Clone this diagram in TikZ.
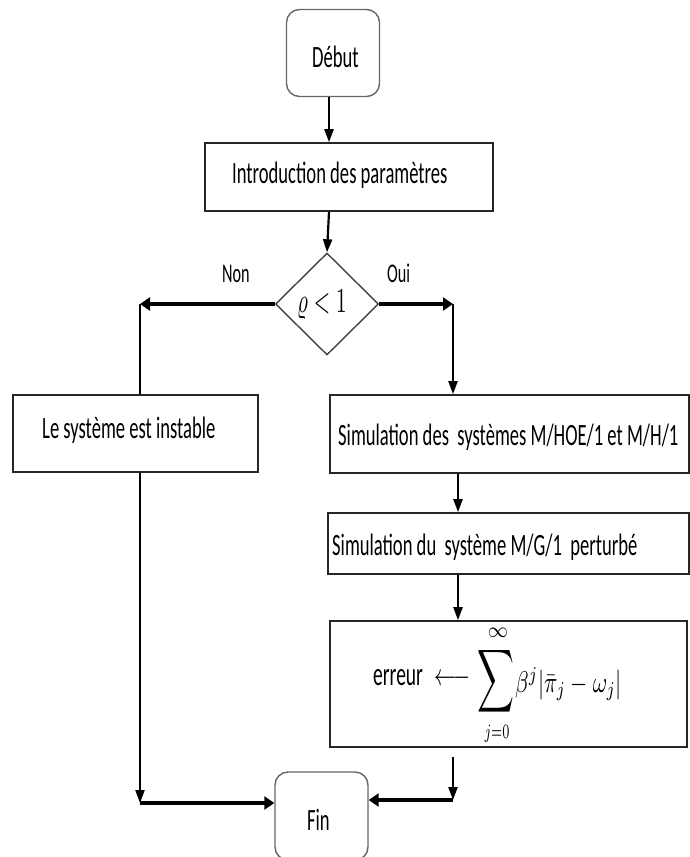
\documentclass[tikz,border=0pt]{standalone}
\usepackage{fontspec}
\usepackage{graphicx}
\newfontfamily\carlito{Carlito}
\usetikzlibrary{shapes.geometric,arrows.meta}
% narrow the lettering horizontally
\newcommand\sqz[1]{\scalebox{0.6}[1]{#1}}

\tikzset{
  term/.style={draw=black!60, line width=1.4pt, rounded corners=13pt, inner sep=0pt},
  proc/.style={draw=black!85, line width=1.6pt, inner sep=0pt},
  dec/.style={draw=black!75, line width=1.4pt, diamond, inner sep=0pt},
  txt/.style={font=\carlito\fontsize{31}{36}\selectfont, text=black, inner sep=0pt},
  lbl/.style={font=\carlito\fontsize{27}{32}\selectfont, text=black, inner sep=0pt},
  mth/.style={text=black, inner sep=0pt},
  vflow/.style={line width=2.2pt, -{Triangle[length=13pt,width=9pt]}},
  hflow/.style={line width=3.4pt, -{Triangle[length=10pt,width=13pt]}},
  plain/.style={line width=2.2pt}
}

\begin{document}
\begin{tikzpicture}[x=1pt,y=-1pt]
\useasboundingbox (0,0) rectangle (690,857);

% boxes
\node[term, minimum width=93pt, minimum height=87pt] (debut) at (333,53) {};
\node[proc, minimum width=288pt, minimum height=68pt] (intro) at (349,177) {};
\node[dec, minimum width=103pt, minimum height=102pt] (test) at (327,304) {};
\node[proc, minimum width=245pt, minimum height=77pt] (instable) at (135.5,433.5) {};
\node[proc, minimum width=359pt, minimum height=78pt] (simA) at (509.5,434) {};
\node[proc, minimum width=361pt, minimum height=61pt] (simB) at (508.5,543.5) {};
\node[proc, minimum width=357pt, minimum height=126pt] (err) at (508.5,684) {};
\node[term, minimum width=93pt, minimum height=88pt] (fin) at (321.5,816) {};

% texts
\node[txt, anchor=base west] (tdebut) at (312,67) {\sqz{Début}};
\node[txt, anchor=base west] (tintro) at (232,183) {\sqz{Introduction des paramètres}};
\node[mth, anchor=base west] (ttest) at (297,312)
  {\scalebox{2.1}[3.5]{$\varrho<1$}};
\node[lbl, anchor=base west] (tnon) at (222,282) {\sqz{Non}};
\node[lbl, anchor=base west] (toui) at (387,282) {\sqz{Oui}};
\node[txt, anchor=base west] (tinst) at (42,438) {\sqz{Le système est instable}};
\node[txt, anchor=base west] (tsimA) at (338,445) {\sqz{Simulation des\ \ systèmes M/HOE/1 et M/H/1}};
\node[txt, anchor=base west] (tsimB) at (332,555) {\sqz{Simulation du\ \ système M/G/1\ \ perturbé}};
\node[txt, anchor=base west] (tfin) at (307,830) {\sqz{Fin}};

% the error formula
\node[mth, anchor=base west] (ferr) at (373,685)
  {\scalebox{1.95}[3.3]{\carlito erreur}\hspace{12pt}\scalebox{2.2}[3.1]{$\longleftarrow$}};
\node[mth] (fsum) at (496,681) {\scalebox{2.56}[4.4]{$\displaystyle\sum$}};
\node[mth] (fsup) at (498,633) {\scalebox{2.6}[3.1]{$\scriptstyle\infty$}};
\node[mth] (fsub) at (497,734) {\scalebox{1.8}[2.9]{$\scriptstyle j=0$}};
\node[mth, anchor=base west] (fterm) at (515,692)
  {\scalebox{2.2}[3.0]{$\beta^{j}|\bar{\pi}_{j}-\omega_{j}|$}};

% bends of the connectors
\coordinate (mainx) at (329,0);
\coordinate (nonc) at (140,304);
\coordinate (ouic) at (453,304);
\coordinate (simx) at (458,0);
\coordinate (lowl) at (140,803);
\coordinate (lowr) at (453,800);

% connectors
\draw[vflow] (debut.south -| mainx) -- (intro.north -| mainx);
\draw[vflow] (intro.south -| mainx) -- (test.north);
\draw[hflow] (test.west) -- (nonc);
\draw[plain] (nonc) -- (instable.north -| nonc);
\draw[hflow] (test.east) -- (ouic);
\draw[vflow] (ouic) -- (simA.north -| ouic);
\draw[vflow] (simA.south -| simx) -- (simB.north -| simx);
\draw[vflow] (simB.south -| simx) -- (err.north -| simx);
\draw[vflow] (instable.south -| lowl) -- (lowl);
\draw[hflow] (lowl) -- (fin.west |- lowl);
\draw[vflow, shorten <=9pt] (err.south -| lowr) -- (lowr);
\draw[hflow] (lowr) -- (fin.east |- lowr);
\end{tikzpicture}
\end{document}
